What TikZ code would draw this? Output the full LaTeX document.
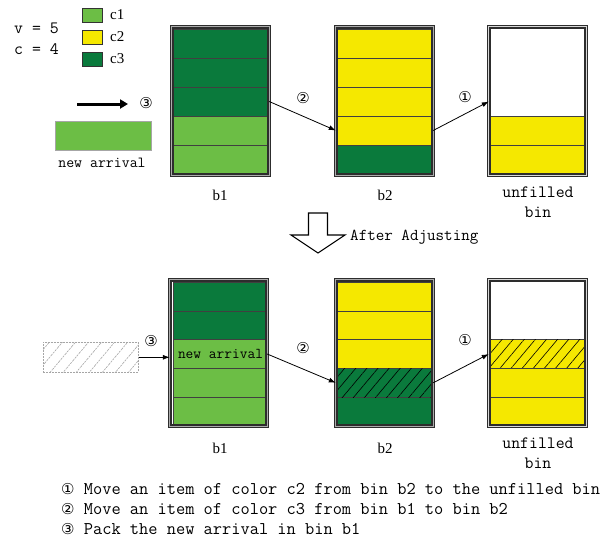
\documentclass[tikz,border=0pt]{standalone}
\usepackage{fontspec}
\setmainfont{Liberation Serif}
\newcommand\monof{\ttfamily}
\newfontfamily\circf{DejaVu Sans}
\usetikzlibrary{arrows.meta,patterns.meta,calc}
\definecolor{cA}{RGB}{108,190,69}
\definecolor{cB}{RGB}{245,232,0}
\definecolor{cC}{RGB}{10,122,60}
\definecolor{framec}{RGB}{45,45,45}
\begin{document}
\begin{tikzpicture}[x=1pt,y=-1pt,
  tcell/.style={anchor=north west, minimum width=95pt, minimum height=29pt, inner sep=0pt, outer sep=0pt, draw=black!75, line width=0.6pt},
  bcell/.style={anchor=north west, minimum width=95pt, minimum height=28.8pt, inner sep=0pt, outer sep=0pt, draw=black!75, line width=0.6pt},
  hatch/.style={pattern color=black, postaction={pattern={Lines[angle=50,distance=8.5pt,line width=0.6pt]}}},
  binframe/.style={anchor=north west, draw=framec, line width=1.3pt, double=gray!65, double distance=1.2pt, minimum width=97.4pt, inner sep=0pt, outer sep=0pt},
  legbox/.style={anchor=north west, draw=black!80, line width=0.5pt, minimum width=20pt, minimum height=14pt, inner sep=0pt},
  conn/.style={-{Latex[length=7pt,width=5pt]}, line width=0.8pt, black},
  mono/.style={font=\monof\fontsize{17.3}{19}\selectfont, inner sep=0pt},
  serif/.style={font=\fontsize{15}{17}\selectfont, inner sep=0pt},
  circ/.style={font=\circf\fontsize{15}{17}\selectfont, inner sep=0pt},
]
\useasboundingbox (0,0) rectangle (611,541);
\fill[white] (0,0) rectangle (611,541);

% ---------- legend ----------
\node[mono, anchor=west] (vv) at (14,28) {v = 5};
\node[mono, anchor=west] (cc) at (14,49) {c = 4};
\node[legbox, fill=cA] (l1) at (82,8) {};
\node[legbox, fill=cB] (l2) at (82,30) {};
\node[legbox, fill=cC] (l3) at (82,52) {};
\node[serif, anchor=west] (l1t) at (110,15) {c1};
\node[serif, anchor=west] (l2t) at (110,37) {c2};
\node[serif, anchor=west] (l3t) at (110,59) {c3};

% ---------- top: new arrival ----------
\coordinate (ta) at (77,104);
\coordinate (tb) at (128,104);
\draw[line width=3pt, -{Triangle[length=8pt,width=9pt]}] (ta) -- (tb);
\node[circ] (tc3) at (146,103) {③};
\node[anchor=north west, minimum width=96pt, minimum height=29pt, inner sep=0pt, fill=cA, draw=gray!70, line width=0.6pt] (tna) at (55,121) {};
\node[mono, font=\monof\fontsize{15.4}{17}\selectfont] (tnat) at (102,163) {new arrival};

% ---------- top bins ----------
\foreach \c [count=\i] in {cC,cC,cC,cA,cA}
  \node[tcell, fill=\c] (t1r\i) at (173,{29+29*(\i-1)}) {};
\foreach \c [count=\i] in {cB,cB,cB,cB,cC}
  \node[tcell, fill=\c] (t2r\i) at (337,{29+29*(\i-1)}) {};
\node[tcell, fill=cB] (t3r4) at (490,116) {};
\node[tcell, fill=cB] (t3r5) at (490,145) {};
\coordinate (t3r3) at (537.5,101.5);

\node[binframe, minimum height=148.4pt] (tb1) at (171.8,26.8) {};
\node[binframe, minimum height=148.4pt] (tb2) at (335.8,26.8) {};
\node[binframe, minimum height=148.4pt, double=gray!30] (tb3) at (488.8,26.8) {};

\node[serif] (tl1) at (220,195) {b1};
\node[serif] (tl2) at (385,195) {b2};
\node[mono] (tl3) at (538,192) {unfilled};
\node[mono] (tl3b) at (538,212) {bin};

\draw[conn] (tb1.east |- t1r3) -- (tb2.west |- t2r4);
\draw[conn] (tb2.east |- t2r4) -- (tb3.west |- t3r3);
\node[circ] (tc2) at (303,98) {②};
\node[circ] (tc1) at (465,97) {①};

% ---------- after adjusting ----------
\draw[line width=1.1pt, fill=white] (308.5,213) -- (327.5,213) -- (327.5,235) -- (345,235) -- (318,253) -- (291,235) -- (308.5,235) -- cycle;
\node[mono, anchor=west, font=\monof\fontsize{16.6}{18}\selectfont] (adj) at (350,237) {After Adjusting};

% ---------- bottom ----------
\node[anchor=north west, minimum width=95pt, minimum height=30pt, inner sep=0pt, draw=gray!70, dashed, dash pattern=on 2pt off 1pt, line width=0.6pt, pattern color=gray!70, pattern={Lines[angle=50,distance=10pt,line width=0.6pt]}] (hb) at (43,342) {};

\foreach \c [count=\i] in {cC,cC,cA,cA,cA}
  \node[bcell, fill=\c] (b1r\i) at (173,{282+28.8*(\i-1)}) {};
\node[font=\monof\fontsize{15}{17}\selectfont, inner sep=0pt] (bnat) at (b1r3) {new arrival};
\foreach \c [count=\i] in {cB,cB,cB,cC,cC}
  \node[bcell, fill=\c] (b2r\i) at (337,{282+28.8*(\i-1)}) {};
\node[bcell, fill=cC, hatch] (b2r4h) at (337,368.4) {};
\node[bcell, fill=cB, hatch] (b3r3) at (490,339.6) {};
\node[bcell, fill=cB] (b3r4) at (490,368.4) {};
\node[bcell, fill=cB] (b3r5) at (490,397.2) {};

\node[binframe, minimum height=146.4pt] (bb1) at (169.8,279.8) {};
\node[binframe, minimum height=146.4pt] (bb2) at (335.8,279.8) {};
\node[binframe, minimum height=146.4pt, double=gray!30] (bb3) at (488.8,279.8) {};

\node[serif] (bl1) at (220,448) {b1};
\node[serif] (bl2) at (385,448) {b2};
\node[mono] (bl3) at (538,443) {unfilled};
\node[mono] (bl3b) at (538,463) {bin};

\draw[conn] (hb.east) -- (bb1.west |- hb.east);
\draw[conn] (bb1.east |- b1r3) -- (bb2.west |- b2r4);
\draw[conn] (bb2.east |- b2r4) -- (bb3.west |- b3r3);
\node[circ] (bc3) at (151,341) {③};
\node[circ] (bc2) at (303,348) {②};
\node[circ] (bc1) at (465,340) {①};

% ---------- notes ----------
\node[mono, anchor=west, font=\monof\fontsize{17.9}{19}\selectfont] (n1) at (61,489) {{\circf\fontsize{15}{17}\selectfont ①} Move an item of color c2 from bin b2 to the unfilled bin};
\node[mono, anchor=west, font=\monof\fontsize{17.9}{19}\selectfont] (n2) at (61,509) {{\circf\fontsize{15}{17}\selectfont ②} Move an item of color c3 from bin b1 to bin b2};
\node[mono, anchor=west, font=\monof\fontsize{17.9}{19}\selectfont] (n3) at (61,529) {{\circf\fontsize{15}{17}\selectfont ③} Pack the new arrival in bin b1};
\end{tikzpicture}
\end{document}
